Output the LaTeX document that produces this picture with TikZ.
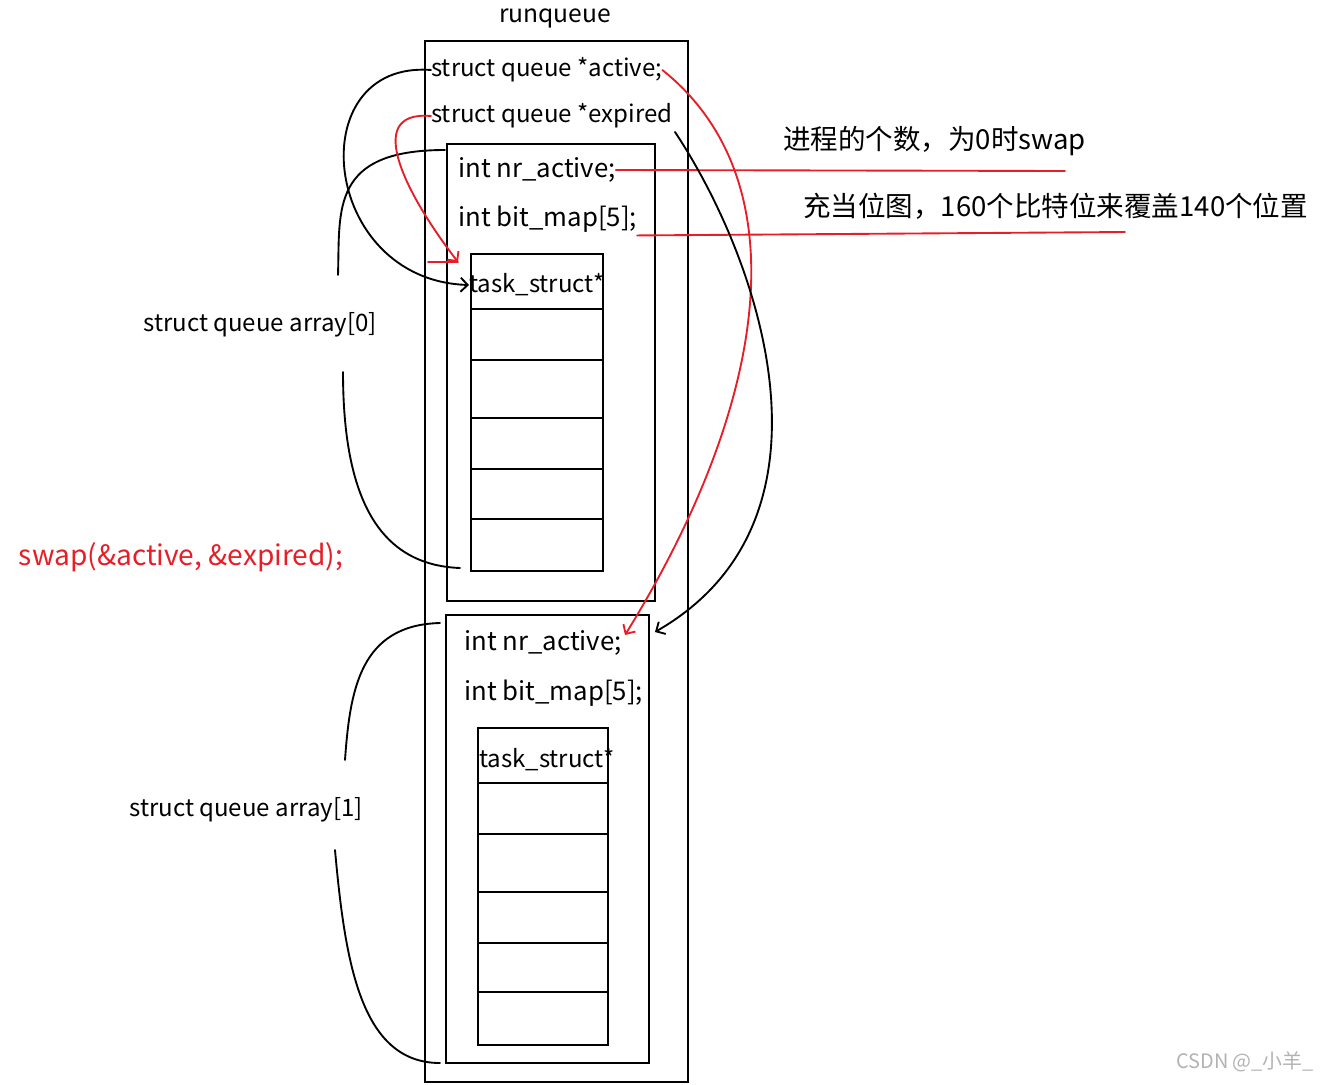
\documentclass[tikz,border=0pt]{standalone}
\usepackage{fontspec}
\setmainfont{Noto Sans CJK SC}
\usetikzlibrary{arrows.meta}
\definecolor{penred}{RGB}{230,30,40}
\tikzset{
  field/.style={anchor=west, inner sep=0pt, font=\fontsize{20.5}{24}\selectfont},
  bigfield/.style={anchor=west, inner sep=0pt, font=\fontsize{22}{26}\selectfont},
  note/.style={inner sep=0pt, font=\fontsize{23.5}{27}\selectfont},
  box/.style={draw, line width=1.5pt},
  pen/.style={line width=1.6pt, line cap=round},
  tip/.style={-{Straight Barb[length=6pt,width=12pt]}}
}
\begin{document}
\begin{tikzpicture}[x=0.03cm,y=-0.03cm]
  \useasboundingbox (0,0) rectangle (1341,1084);
  %runqueue
  \node [note, font=\fontsize{21}{24}\selectfont] (title) at (555,18) {runqueue};
  \draw [box] (425,41) rectangle (688,1082);
  \node [field] (active) at (431,70) {struct queue *active;};
  \node [field] (expired) at (431,116) {struct queue *expired};
  %array[0]
  \draw [box] (447,144) rectangle (655,601);
  \node [bigfield] (nra) at (458,170) {int nr\_active;};
  \node [bigfield] (bma) at (458,219) {int bit\_map[5];};
  \draw [box] (471,254) rectangle (603,571);
  \node [field] (tsa) at (469,285) {task\_struct*};
  \foreach \y in {309,360,418,469,519}
    \draw [box] (471,\y) -- (603,\y);
  %array[1]
  \draw [box] (446,615) rectangle (649,1063);
  \node [bigfield] (nrb) at (464,643) {int nr\_active;};
  \node [bigfield] (bmb) at (464,693) {int bit\_map[5];};
  \draw [box] (478,728) rectangle (608,1045);
  \node [field] (tsb) at (479,760) {task\_struct*};
  \foreach \y in {783,834,892,943,992}
    \draw [box] (478,\y) -- (608,\y);
  %labels
  \node [field, anchor=center] (arr0) at (260,325) {struct queue array[0]};
  \node [field, anchor=center] (arr1) at (246,810) {struct queue array[1]};
  \node [note, text=penred, font=\fontsize{24}{28}\selectfont] (swap) at (181,557) {swap(\&active, \&expired);};
  \node [note, anchor=west] (cnt) at (783,141) {进程的个数，为0时swap};
  \node [note, anchor=west] (bits) at (803,206) {充当位图，160个比特位来覆盖140个位置};
  \node [text=gray!60, inner sep=0pt, font=\fontsize{17}{20}\selectfont] (mark) at (1245,1062) {CSDN @\_小羊\_};
  %notes
  \draw [pen, penred] (nra.east) -- (1065,171);
  \draw [pen, penred] (bma.south east) ++(0,3) -- (1125,232);
  %braces
  \draw [pen] (445,150) .. controls (330,150) and (340,210) .. (338,275);
  \draw [pen] (343,372) .. controls (343,500) and (380,565) .. (460,568);
  \draw [pen] (440,623) .. controls (360,625) and (350,690) .. (345,760);
  \draw [pen] (335,850) .. controls (345,960) and (360,1063) .. (440,1063);
  %pointers
  \draw [pen, tip] (active.west) .. controls (300,60) and (320,280) .. (tsa.west);
  \draw [pen, penred, tip] (expired.west) .. controls (360,110) and (410,200) .. (458,262);
  \draw [pen, penred] (428,262) -- (458,262);
  \draw [pen, penred, tip] (active.east) .. controls (800,180) and (770,400) .. (625,635);
  \draw [pen, tip] (675,132) .. controls (760,260) and (850,520) .. (655,632);
\end{tikzpicture}
\end{document}
